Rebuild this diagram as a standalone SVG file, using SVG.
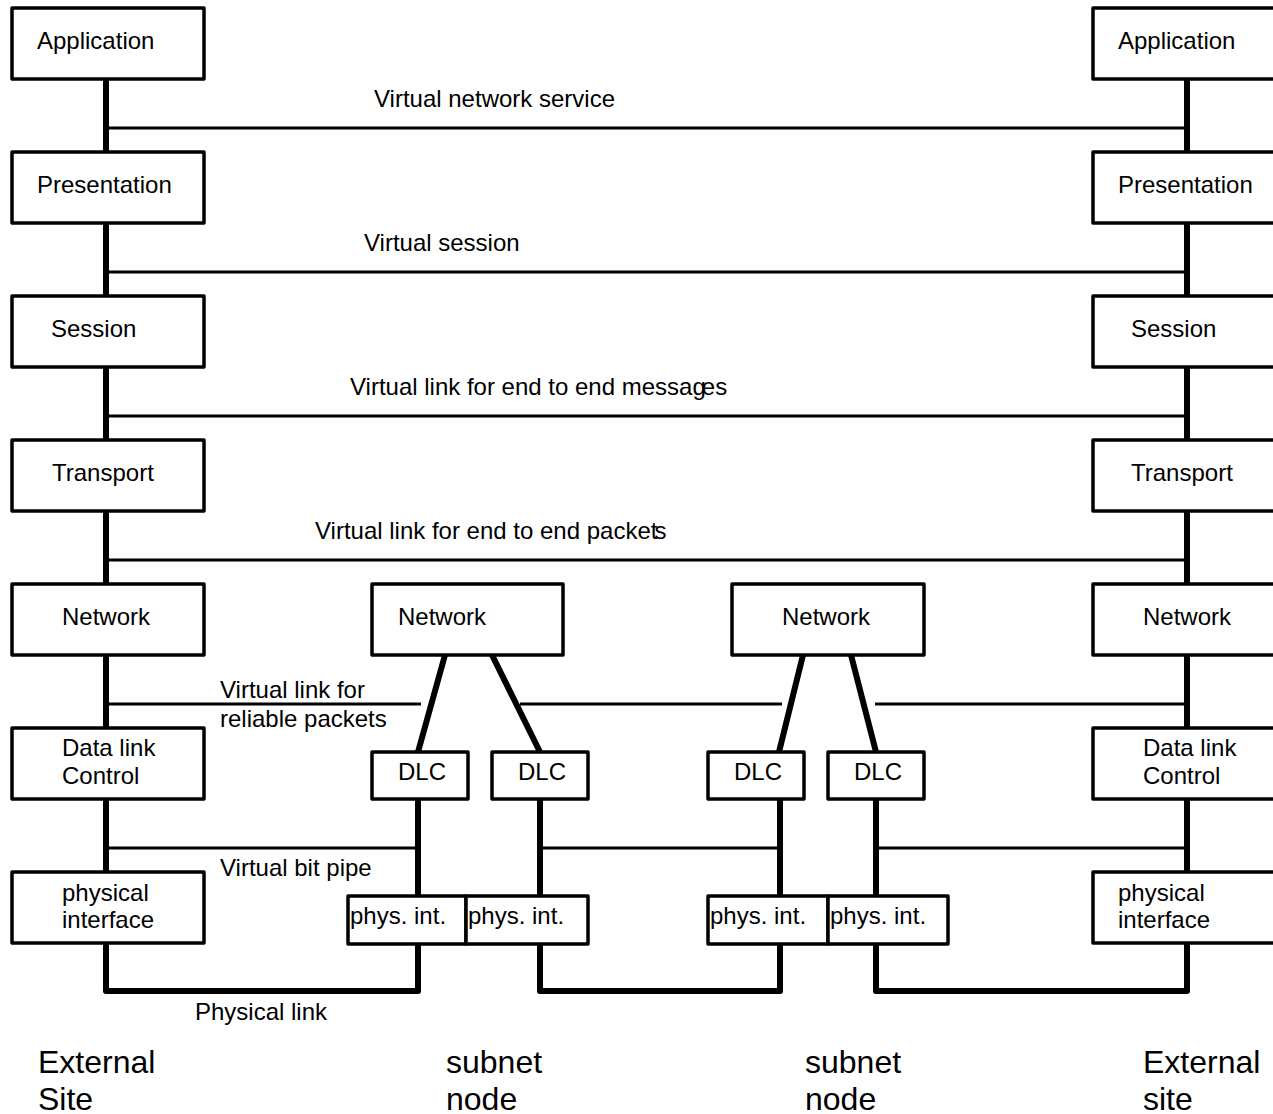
<svg xmlns="http://www.w3.org/2000/svg" width="1273" height="1114" viewBox="0 0 1273 1114">
<style>
.box{fill:#fff;stroke:#000;stroke-width:3.5;stroke-linejoin:round}
.t{font-family:"Liberation Sans",Arial,sans-serif;font-size:24px;fill:#000}
.big{font-family:"Liberation Sans",Arial,sans-serif;font-size:32px;fill:#000}
.thick{stroke:#000;stroke-width:6;fill:none;stroke-linejoin:round;stroke-linecap:round}
.thin{stroke:#000;stroke-width:3;fill:none}
</style>
<rect width="1273" height="1114" fill="#fff"/>
<g id="connectors">
<path class="thick" d="M106 79V152M106 223V296M106 367V440M106 511V584M106 655V728M106 799V872M106 943V991H418V944"/>
<path class="thick" d="M1187 79V152M1187 223V296M1187 367V440M1187 511V584M1187 655V728M1187 799V872M1187 943V991H876V944"/>
<path class="thick" d="M540 944V991H780V944"/>
<path class="thick" d="M418 799V896M540 799V896M780 799V896M876 799V896"/>
<path class="thick" d="M445 655L418 752M492 655L540 752M803 655L779 752M851 655L876 752"/>
<path class="thin" d="M106 128H1187M106 272H1187M106 416H1187M106 560H1187"/>
<path class="thin" d="M106 704H421M520 704H782M875 704H1187"/>
<path class="thin" d="M106 848H418M540 848H780M876 848H1187"/>
</g>
<g id="left-application"><rect class="box" x="12" y="8" width="192" height="71"/><text class="t" x="37" y="49">Application</text></g>
<g id="left-presentation"><rect class="box" x="12" y="152" width="192" height="71"/><text class="t" x="37" y="193">Presentation</text></g>
<g id="left-session"><rect class="box" x="12" y="296" width="192" height="71"/><text class="t" x="51" y="337">Session</text></g>
<g id="left-transport"><rect class="box" x="12" y="440" width="192" height="71"/><text class="t" x="52" y="481">Transport</text></g>
<g id="left-network"><rect class="box" x="12" y="584" width="192" height="71"/><text class="t" x="62" y="625">Network</text></g>
<g id="left-dlc"><rect class="box" x="12" y="728" width="192" height="71"/><text class="t" x="62" y="756">Data link</text><text class="t" x="62" y="784">Control</text></g>
<g id="left-phys"><rect class="box" x="12" y="872" width="192" height="71"/><text class="t" x="62" y="901">physical</text><text class="t" x="62" y="928">interface</text></g>
<g id="right-application"><rect class="box" x="1093" y="8" width="200" height="71"/><text class="t" x="1118" y="49">Application</text></g>
<g id="right-presentation"><rect class="box" x="1093" y="152" width="200" height="71"/><text class="t" x="1118" y="193">Presentation</text></g>
<g id="right-session"><rect class="box" x="1093" y="296" width="200" height="71"/><text class="t" x="1131" y="337">Session</text></g>
<g id="right-transport"><rect class="box" x="1093" y="440" width="200" height="71"/><text class="t" x="1131" y="481">Transport</text></g>
<g id="right-network"><rect class="box" x="1093" y="584" width="200" height="71"/><text class="t" x="1143" y="625">Network</text></g>
<g id="right-dlc"><rect class="box" x="1093" y="728" width="200" height="71"/><text class="t" x="1143" y="756">Data link</text><text class="t" x="1143" y="784">Control</text></g>
<g id="right-phys"><rect class="box" x="1093" y="872" width="200" height="71"/><text class="t" x="1118" y="901">physical</text><text class="t" x="1118" y="928">interface</text></g>
<g id="subnet1-network"><rect class="box" x="372" y="584" width="191" height="71"/><text class="t" x="398" y="625">Network</text></g>
<g id="subnet2-network"><rect class="box" x="732" y="584" width="192" height="71"/><text class="t" x="782" y="625">Network</text></g>
<g id="dlc1"><rect class="box" x="372" y="752" width="96" height="47"/><text class="t" x="398" y="780">DLC</text></g>
<g id="dlc2"><rect class="box" x="492" y="752" width="96" height="47"/><text class="t" x="518" y="780">DLC</text></g>
<g id="dlc3"><rect class="box" x="708" y="752" width="96" height="47"/><text class="t" x="734" y="780">DLC</text></g>
<g id="dlc4"><rect class="box" x="828" y="752" width="96" height="47"/><text class="t" x="854" y="780">DLC</text></g>
<g id="phys1"><rect class="box" x="348" y="896" width="118" height="48"/><text class="t" x="350" y="924">phys. int.</text></g>
<g id="phys2"><rect class="box" x="466" y="896" width="122" height="48"/><text class="t" x="468" y="924">phys. int.</text></g>
<g id="phys3"><rect class="box" x="708" y="896" width="120" height="48"/><text class="t" x="710" y="924">phys. int.</text></g>
<g id="phys4"><rect class="box" x="828" y="896" width="120" height="48"/><text class="t" x="830" y="924">phys. int.</text></g>
<g id="labels">
<text class="t" x="374" y="107">Virtual network service</text>
<text class="t" x="364" y="251">Virtual session</text>
<text class="t" x="350" y="395">Virtual link for end to end messa<tspan>g</tspan><tspan dx="-4">es</tspan></text>
<text class="t" x="315" y="539">Virtual link for end to end packet<tspan dx="-3">s</tspan></text>
<text class="t" x="220" y="698">Virtual link for</text>
<text class="t" x="220" y="727">reliable packets</text>
<text class="t" x="220" y="876">Virtual bit pipe</text>
<text class="t" x="195" y="1020">Physical link</text>
<text class="big" x="38" y="1073">External</text>
<text class="big" x="38" y="1110">Site</text>
<text class="big" x="446" y="1073">subnet</text>
<text class="big" x="446" y="1110">node</text>
<text class="big" x="805" y="1073">subnet</text>
<text class="big" x="805" y="1110">node</text>
<text class="big" x="1143" y="1073">External</text>
<text class="big" x="1143" y="1110">site</text>
</g>
</svg>
